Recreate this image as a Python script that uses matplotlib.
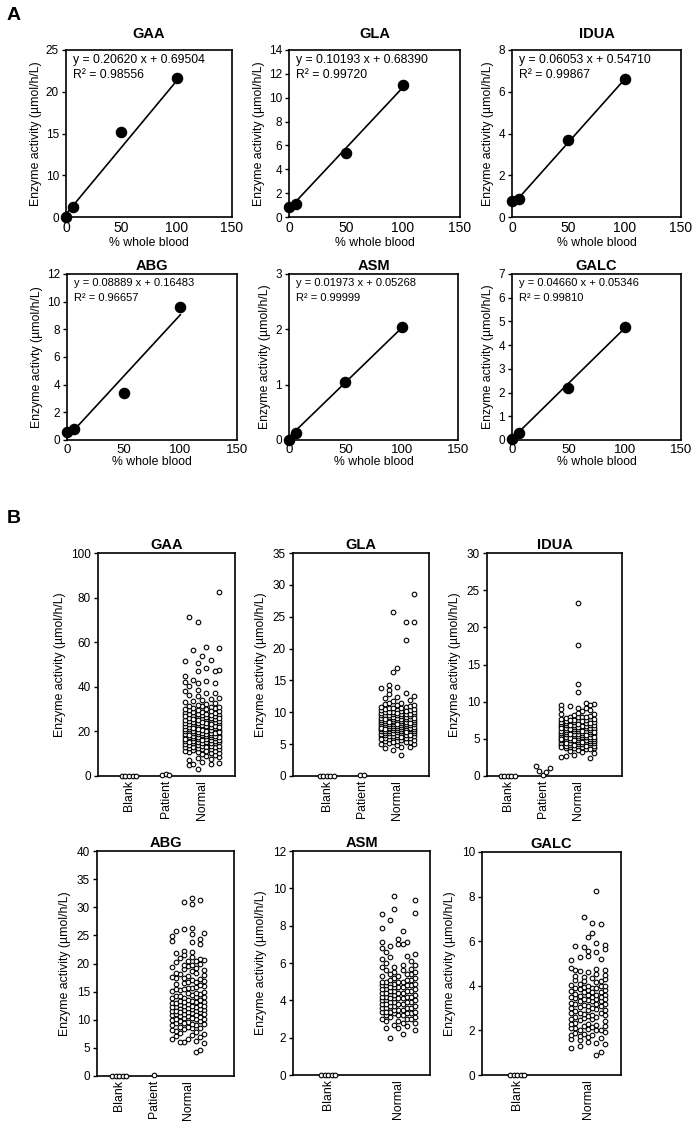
import numpy as np
import matplotlib
matplotlib.use("Agg")
import matplotlib.pyplot as plt

plt.rcParams['font.family'] = ['Liberation Sans', 'DejaVu Sans']

# ---------------- Panel A data ----------------
enzymes = ["GAA", "GLA", "IDUA", "ABG", "ASM", "GALC"]
pct_blood = [0, 6.25, 50, 100]
std_gaa = [0.0, 2.5, 15.2, 21.6]
std_gla = [0.8, 1.05, 5.4, 11.1]
std_idua = [0.76, 0.87, 3.7, 6.6]
std_abg = [0.6, 0.8, 3.4, 9.65]
std_asm = [0.0, 0.13, 1.04, 2.04]
std_galc = [0.05, 0.28, 2.21, 4.76]
slopes = [0.20620, 0.10193, 0.06053, 0.08889, 0.01973, 0.04660]
intercepts = [0.69504, 0.68390, 0.54710, 0.16483, 0.05268, 0.05346]
r2 = [0.98556, 0.99720, 0.99867, 0.96657, 0.99999, 0.99810]
ymax_a = [25, 14, 8, 12, 3, 7]
ystep_a = [5, 2, 2, 2, 1, 1]

# ---------------- Panel B data ----------------
blank_vals = [0.0, 0.0, 0.0, 0.0, 0.0]
gaa_patient = [0.5, 0.8, 0.6]
gla_patient = [0.1, 0.1]
idua_patient = [1.4, 0.7, 0.1, 0.6, 1.1]
abg_patient = [0.1]

gaa_normal = [82.5, 71.5, 69.0, 58.0, 57.5, 56.5, 54.0, 52.0, 51.5, 50.5, 48.5, 47.5, 47.0, 47.0,
              45.0, 43.0, 42.5, 42.0, 41.5, 41.5, 40.5, 38.5, 38.0, 37.0, 37.0, 36.5, 36.0,
              3.0, 5.0, 5.5, 5.5, 6.0, 6.5, 7.0, 7.5, 8.0, 8.5,
              8.8, 9.3, 9.7, 10.1, 10.4, 10.6, 10.9, 11.2, 11.4, 11.7, 11.9, 12.1, 12.3, 12.4, 12.6,
              12.9, 13.1, 13.2, 13.4, 13.6, 13.9, 14.1, 14.2, 14.4, 14.6, 14.7, 14.9, 15.1, 15.3,
              15.4, 15.6, 15.8, 15.9, 16.1, 16.2, 16.4, 16.6, 16.7, 16.9, 17.0, 17.2, 17.3, 17.5,
              17.6, 17.8, 17.9, 18.1, 18.2, 18.4, 18.5, 18.7, 18.8, 19.0, 19.2, 19.3, 19.5, 19.7,
              19.9, 20.1, 20.2, 20.4, 20.6, 20.8, 21.0, 21.2, 21.3, 21.5, 21.7, 21.9, 22.1, 22.3,
              22.5, 22.6, 22.8, 23.0, 23.2, 23.4, 23.6, 23.8, 24.0, 24.2, 24.4, 24.6, 24.8, 25.0,
              25.2, 25.4, 25.7, 25.9, 26.1, 26.3, 26.5, 26.8, 27.0, 27.2, 27.4, 27.7, 27.9, 28.1,
              28.4, 28.6, 28.9, 29.1, 29.4, 29.7, 30.0, 30.3, 30.6, 30.9, 31.3, 31.6, 32.0, 32.4,
              32.8, 33.2, 33.7, 34.1, 34.6, 35.2, 13.3, 14.8, 15.2, 16.0, 16.8, 17.4, 18.0, 18.6,
              19.1, 19.6, 20.0, 20.5, 21.1, 21.6, 22.0, 22.4, 23.1, 23.7, 24.3, 24.9, 25.5, 26.0,
              26.7, 27.3, 28.0, 29.0, 30.1, 31.0, 12.8, 11.0]
gla_normal = [28.6, 25.7, 24.2, 24.1, 21.3, 17.0, 16.4, 14.3, 13.9, 13.8, 13.5, 13.0, 12.8, 12.6,
              12.4, 12.2, 3.3, 4.1, 4.4, 4.5, 4.6, 4.8,
              5.0, 5.1, 5.2, 5.3, 5.4, 5.5, 5.5, 5.6, 5.7, 5.8, 5.9, 5.9, 6.0, 6.0, 6.1, 6.2, 6.2,
              6.3, 6.3, 6.4, 6.5, 6.5, 6.6, 6.6, 6.7, 6.7, 6.8, 6.8, 6.9, 6.9, 7.0, 7.0, 7.0, 7.1,
              7.1, 7.2, 7.2, 7.3, 7.3, 7.3, 7.4, 7.4, 7.5, 7.5, 7.5, 7.6, 7.6, 7.7, 7.7, 7.7, 7.8,
              7.8, 7.9, 7.9, 7.9, 8.0, 8.0, 8.0, 8.1, 8.1, 8.2, 8.2, 8.2, 8.3, 8.3, 8.4, 8.4, 8.4,
              8.5, 8.5, 8.6, 8.6, 8.6, 8.7, 8.7, 8.8, 8.8, 8.9, 8.9, 9.0, 9.0, 9.0, 9.1, 9.1, 9.2,
              9.2, 9.3, 9.3, 9.4, 9.4, 9.5, 9.5, 9.6, 9.6, 9.7, 9.7, 9.8, 9.8, 9.9, 10.0, 10.0,
              10.1, 10.1, 10.2, 10.3, 10.3, 10.4, 10.5, 10.5, 10.6, 10.7, 10.8, 10.9, 11.0, 11.1,
              11.2, 11.3, 11.5, 11.7, 11.9, 6.4, 7.2, 8.1, 8.9, 9.5, 10.2, 5.8, 6.9, 7.6, 8.3,
              9.1, 9.9, 10.6, 11.4, 5.3, 6.1, 7.4, 8.5]
idua_normal = [23.3, 17.6, 12.4, 11.3, 9.8, 9.7, 9.6, 9.5, 9.4, 9.2, 9.1, 9.0, 8.9, 8.8,
               2.4, 2.5, 2.7, 2.8, 3.1, 3.2, 3.4,
               3.5, 3.6, 3.7, 3.8, 3.8, 3.9, 3.9, 4.0, 4.0, 4.1, 4.1, 4.2, 4.2, 4.3, 4.3, 4.3, 4.4,
               4.4, 4.5, 4.5, 4.5, 4.6, 4.6, 4.7, 4.7, 4.7, 4.8, 4.8, 4.9, 4.9, 4.9, 5.0, 5.0, 5.0,
               5.1, 5.1, 5.2, 5.2, 5.2, 5.3, 5.3, 5.4, 5.4, 5.4, 5.5, 5.5, 5.6, 5.6, 5.6, 5.7, 5.7,
               5.8, 5.8, 5.8, 5.9, 5.9, 6.0, 6.0, 6.0, 6.1, 6.1, 6.2, 6.2, 6.2, 6.3, 6.3, 6.4, 6.4,
               6.5, 6.5, 6.5, 6.6, 6.6, 6.7, 6.7, 6.8, 6.8, 6.9, 6.9, 7.0, 7.0, 7.1, 7.1, 7.2, 7.2,
               7.3, 7.3, 7.4, 7.4, 7.5, 7.5, 7.6, 7.7, 7.7, 7.8, 7.9, 8.0, 8.0, 8.1, 8.2, 8.3, 8.4,
               8.5, 4.2, 4.6, 5.1, 5.5, 5.9, 6.3, 6.7, 7.1, 7.5, 3.9, 4.4, 4.8, 5.3, 5.7, 6.1, 6.6,
               7.0, 7.4, 8.0, 3.6, 4.0, 5.0, 6.4, 6.9]
abg_normal = [31.6, 31.3, 30.9, 30.6, 26.3, 26.1, 25.8, 25.4, 25.2, 24.9, 24.3, 24.0, 23.8, 23.5,
              22.3, 22.0, 21.8, 21.5, 4.3, 4.7, 5.8, 6.0, 6.1, 6.3, 6.6,
              6.6, 6.9, 7.1, 7.3, 7.5, 7.7, 7.9, 8.0, 8.2, 8.4, 8.5, 8.7, 8.8, 9.0, 9.1, 9.3, 9.4,
              9.6, 9.7, 9.8, 10.0, 10.1, 10.2, 10.3, 10.5, 10.6, 10.7, 10.8, 11.0, 11.1, 11.2, 11.3,
              11.4, 11.5, 11.6, 11.7, 11.8, 11.9, 12.0, 12.1, 12.2, 12.3, 12.4, 12.5, 12.6, 12.7,
              12.8, 12.9, 13.0, 13.1, 13.2, 13.3, 13.4, 13.5, 13.6, 13.8, 13.9, 14.0, 14.1, 14.3,
              14.4, 14.5, 14.7, 14.8, 15.0, 15.1, 15.3, 15.4, 15.6, 15.7, 15.9, 16.0, 16.2, 16.4,
              16.5, 16.7, 16.9, 17.0, 17.2, 17.4, 17.6, 17.8, 18.0, 18.2, 18.4, 18.6, 18.8, 19.0,
              19.2, 19.4, 19.6, 19.8, 20.0, 20.2, 20.4, 20.6, 20.8, 21.0, 21.2, 11.0, 10.4, 12.0,
              9.5, 10.9, 11.6, 12.4, 13.1, 8.6, 9.2, 10.2, 11.3, 12.2, 14.2, 15.5, 16.8, 17.5,
              18.3, 19.7, 20.5]
asm_normal = [9.6, 9.4, 8.9, 8.7, 8.6, 8.3, 7.9, 7.7, 7.3, 7.1, 7.1, 7.0, 7.0, 6.9, 6.8,
              2.0, 2.2, 2.4, 2.5, 2.5, 2.6,
              2.7, 2.8, 2.8, 2.9, 2.9, 3.0, 3.0, 3.1, 3.1, 3.2, 3.2, 3.2, 3.3, 3.3, 3.4, 3.4, 3.4,
              3.5, 3.5, 3.5, 3.6, 3.6, 3.6, 3.7, 3.7, 3.7, 3.8, 3.8, 3.8, 3.9, 3.9, 3.9, 4.0, 4.0,
              4.0, 4.1, 4.1, 4.1, 4.2, 4.2, 4.2, 4.3, 4.3, 4.3, 4.4, 4.4, 4.4, 4.5, 4.5, 4.5, 4.6,
              4.6, 4.6, 4.7, 4.7, 4.7, 4.8, 4.8, 4.8, 4.9, 4.9, 4.9, 5.0, 5.0, 5.0, 5.1, 5.1, 5.2,
              5.2, 5.3, 5.3, 5.4, 5.4, 5.5, 5.5, 5.6, 5.6, 5.7, 5.8, 5.8, 5.9, 6.0, 6.1, 6.2, 6.3,
              6.4, 6.5, 6.6, 3.3, 3.6, 3.9, 4.2, 4.5, 4.8, 5.1, 3.0, 3.4, 3.8, 4.1, 4.4, 4.7,
              5.0, 5.4, 5.9]
galc_normal = [8.25, 7.1, 6.8, 6.75, 6.35, 6.2, 5.9, 5.85, 5.8, 5.75, 5.65, 5.55, 5.5, 5.35, 5.3,
               5.2, 5.15, 0.9, 1.05, 1.2, 1.3, 1.4, 1.45, 1.5, 1.55, 1.6, 1.65,
               1.7, 1.75, 1.8, 1.85, 1.9, 1.95, 2.0, 2.0, 2.05, 2.1, 2.1, 2.15, 2.2, 2.2, 2.25, 2.3,
               2.35, 2.4, 2.45, 2.5, 2.55, 2.6, 2.6, 2.65, 2.7, 2.7, 2.75, 2.8, 2.8, 2.85, 2.9,
               2.9, 2.95, 3.0, 3.0, 3.05, 3.1, 3.1, 3.15, 3.2, 3.2, 3.25, 3.3, 3.3, 3.35, 3.4, 3.4,
               3.45, 3.5, 3.5, 3.55, 3.6, 3.6, 3.65, 3.7, 3.7, 3.75, 3.8, 3.8, 3.85, 3.9, 3.9,
               3.95, 4.0, 4.0, 4.05, 4.1, 4.15, 4.2, 4.25, 4.3, 4.35, 4.4, 4.45, 4.5, 4.55, 4.6,
               4.65, 4.7, 4.75, 4.8, 3.3, 3.5, 3.7, 4.0, 4.2, 2.0, 2.3, 2.8, 3.4, 3.6, 4.7, 1.8,
               2.5, 3.2, 3.9]

group_labels = ["Blank", "Patient", "Normal"]
b_groups = [
    [blank_vals, gaa_patient, gaa_normal],
    [blank_vals, gla_patient, gla_normal],
    [blank_vals, idua_patient, idua_normal],
    [blank_vals, abg_patient, abg_normal],
    [blank_vals, None, asm_normal],
    [blank_vals, None, galc_normal],
]
ymax_b = [100, 35, 30, 40, 12, 10]
ystep_b = [20, 5, 5, 5, 2, 2]

# ---------------- layout (pixels) ----------------
W, H = 700, 1131
fig = plt.figure(figsize=(W / 100, H / 100), dpi=100)


def add_box(l, t, r, b):
    return fig.add_axes([l / W, 1 - b / H, (r - l) / W, (b - t) / H])


boxes_a = [(66, 50, 232, 217), (289, 50, 460, 217), (512, 50, 681, 217),
           (67, 274, 237, 440), (289, 274, 458, 440), (512, 274, 681, 440)]
boxes_b = [(98, 553, 235, 776), (293, 553, 429, 776), (487, 553, 622, 776),
           (97, 851, 234, 1076), (293, 851, 430, 1075), (482, 852, 621, 1075)]
xlim_b = [(0.15, 3.9), (0.04, 3.9), (0.4, 4.26), (0.36, 4.33), (0.0, 3.9), (0.01, 3.93)]

std_all = [std_gaa, std_gla, std_idua, std_abg, std_asm, std_galc]


def style(ax, lw=1.2):
    for s in ax.spines.values():
        s.set_linewidth(lw)
        s.set_color("black")


# Panel A
for i, ax_box in enumerate(boxes_a):
    ax = add_box(*ax_box)
    style(ax)
    row1 = i < 3
    if i == 0:
        fwd = lambda y: np.where(np.asarray(y) < 10, np.asarray(y) / 2.0, np.asarray(y) - 5.0)
        inv = lambda u: np.where(np.asarray(u) < 5, np.asarray(u) * 2.0, np.asarray(u) + 5.0)
        ax.set_yscale("function", functions=(fwd, inv))
        ax.set_yticks([0, 10, 15, 20, 25])
    else:
        ax.set_yticks(np.arange(0, ymax_a[i] + 0.001, ystep_a[i]))
    ax.set_ylim(0, ymax_a[i])
    ax.set_xlim(0, 150)
    ax.set_xticks([0, 50, 100, 150])
    xs = np.array([0, 100])
    ax.plot(xs, slopes[i] * xs + intercepts[i], color="black", lw=1.2, zorder=2)
    ax.plot(pct_blood, std_all[i], "o", color="black", ms=7.3, clip_on=False, zorder=3)
    ax.tick_params(axis="y", labelsize=8.5, direction="out", length=3, width=1, pad=2)
    ax.tick_params(axis="x", labelsize=10 if row1 else 9.5, direction="out", length=0, pad=3)
    ylab = "Enzyme activty (µmol/h/L)" if i == 3 else "Enzyme activity (µmol/h/L)"
    ax.set_ylabel(ylab, fontsize=8.8, labelpad=3)
    ax.set_xlabel("% whole blood", fontsize=8.8, labelpad=1 if row1 else 0)
    ax.set_title(enzymes[i], fontsize=10.5, fontweight="bold", pad=9 if row1 else 3)
    fs = 8.8 if row1 else 8.0
    ax.annotate(f"y = {slopes[i]:.5f} x + {intercepts[i]:.5f}", xy=(0, 1),
                xycoords="axes fraction", xytext=(5, -3), textcoords="offset points",
                ha="left", va="top", fontsize=fs)
    ax.annotate(f"R² = {r2[i]:.5f}", xy=(0, 1), xycoords="axes fraction",
                xytext=(5, -14), textcoords="offset points", ha="left", va="top", fontsize=fs)


def swarm_x(vals, center, d, ncol=9, step=0.118):
    vals = np.asarray(vals, float)
    order = np.argsort(vals)
    offs = (np.arange(ncol) - (ncol - 1) / 2.0) * step
    cols = [[] for _ in range(ncol)]
    xs = np.zeros(len(vals))
    for k, idx in enumerate(order):
        v = vals[idx]
        clear = np.array([min([abs(v - u) for u in c], default=np.inf) for c in cols])
        start = (k * 5 + int(v * 37)) % ncol
        chosen = None
        for j in range(ncol):
            c = (start + j * 2) % ncol
            if clear[c] >= d:
                chosen = c
                break
        if chosen is None:
            chosen = int(np.argmax(clear))
        cols[chosen].append(v)
        xs[idx] = center + offs[chosen]
    return xs


# Panel B
for i, ax_box in enumerate(boxes_b):
    ax = add_box(*ax_box)
    style(ax)
    ax.set_xlim(*xlim_b[i])
    ax.set_ylim(0, ymax_b[i])
    ax.set_yticks(np.arange(0, ymax_b[i] + 0.001, ystep_b[i]))
    h_px = ax_box[3] - ax_box[1]
    d = ymax_b[i] * 4.2 / h_px
    ticks, labels = [], []
    for g, vals in enumerate(b_groups[i]):
        if vals is None:
            continue
        pos = g + 1
        ticks.append(pos)
        labels.append(group_labels[g])
        if g < 2:
            n = len(vals)
            xs = pos + (np.arange(n) - (n - 1) / 2.0) * 0.1
        else:
            xs = swarm_x(vals, pos, d)
        ax.scatter(xs, vals, s=11, facecolors="white", edgecolors="black",
                   linewidths=0.8, clip_on=False, zorder=3)
    ax.set_xticks(ticks)
    ax.set_xticklabels(labels, rotation=90, fontsize=8.8)
    ax.tick_params(axis="x", length=0, pad=3)
    ax.tick_params(axis="y", labelsize=8.5, direction="out", length=3, width=1, pad=2)
    ax.set_ylabel("Enzyme activity (µmol/h/L)", fontsize=8.8, labelpad=4)
    ax.set_title(enzymes[i], fontsize=10.5, fontweight="bold", pad=3)

fig.text(7 / W, 1 - 15 / H, "A", fontsize=14, fontweight="bold", va="center", ha="left")
fig.text(7 / W, 1 - 518 / H, "B", fontsize=14, fontweight="bold", va="center", ha="left")

fig.savefig("out.png", dpi=100)
